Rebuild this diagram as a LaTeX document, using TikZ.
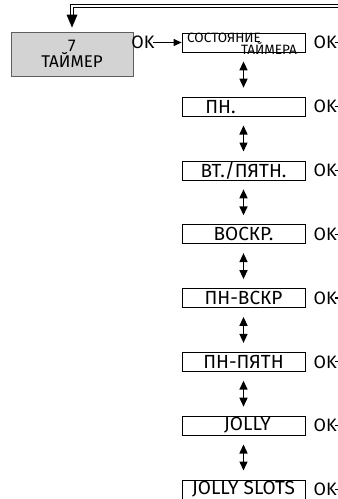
\documentclass[tikz,border=0pt]{standalone}
\usepackage{fontspec}
\setmainfont{Fira Sans}
\usetikzlibrary{arrows.meta, positioning, calc}
\definecolor{menugray}{RGB}{211,211,211}
\definecolor{framegray}{RGB}{95,95,95}

\begin{document}
\begin{tikzpicture}[x=1pt, y=-1pt,
	menubox/.style={draw, line width=0.8pt, minimum width=123pt, minimum height=19pt,
		inner sep=0pt, font=\fontsize{19}{19}\selectfont},
	oklabel/.style={inner sep=0pt, font=\fontsize{18}{18}\selectfont},
	smalltxt/.style={inner sep=0pt, font=\fontsize{13.5}{13.5}\selectfont},
	updown/.style={{Triangle[length=9pt,width=8pt]}-{Triangle[length=9pt,width=8pt]}, line width=1.5pt}]
	\useasboundingbox (0,0) rectangle (338,499);
	% menu 7
	\node[draw=framegray, fill=menugray, line width=0.8pt, minimum width=122pt, minimum height=44pt,
		align=center, font=\fontsize{17}{15}\selectfont] (timer) at (72,54) {7\\ТАЙМЕР};
	% sottomenu
	\node[menubox] (st) at (243.5,42.5) {};
	\node[smalltxt, anchor=base west] (stA) at (187,42) {СОСТОЯНИЕ};
	\node[smalltxt, anchor=base east] (stB) at (297,54.5) {ТАЙМЕРА};
	\foreach \nm/\txt [count=\i from 0] in {mo/{ПН.\kern46pt}, tf/{ВТ./ПЯТН.}, su/{ВОСКР.},
		ms/{ПН-ВСКР}, mf/{ПН-ПЯТН}, jo/{\kern8pt JOLLY}, js/{JOLLY SLOTS}}{
		\node[menubox] (\nm) at (243.5,106.6+63.8*\i) {\txt};
	}
	\foreach \a/\b in {st/mo, mo/tf, tf/su, su/ms, ms/mf, mf/jo, jo/js}
		\draw[updown] ([yshift=-9pt]\a.south) -- ([yshift=9pt]\b.north);
	% OK
	\coordinate (edge) at (338,0);
	\foreach \nm in {st, mo, tf, su, ms, mf, jo, js}{
		\node[oklabel, right=8pt of \nm] (ok\nm) {OK};
		\draw[line width=1.2pt] ([xshift=-2pt]ok\nm.east) -- (ok\nm.east -| edge);
	}
	\node[oklabel, left=27pt of st] (okin) {OK};
	\draw[-{Triangle[length=8pt,width=7pt]}, line width=1.2pt] ([xshift=-2pt]okin.east) -- (st.west);
	% ritorno
	\coordinate (back) at (338,6);
	\draw[double, double distance=2.2pt, line width=0.6pt] (back) -| ([yshift=15pt]timer.north);
	\fill ([yshift=4pt]timer.north) -- ++(-5.5,-13) -- ++(11,0) -- cycle;
\end{tikzpicture}
\end{document}
